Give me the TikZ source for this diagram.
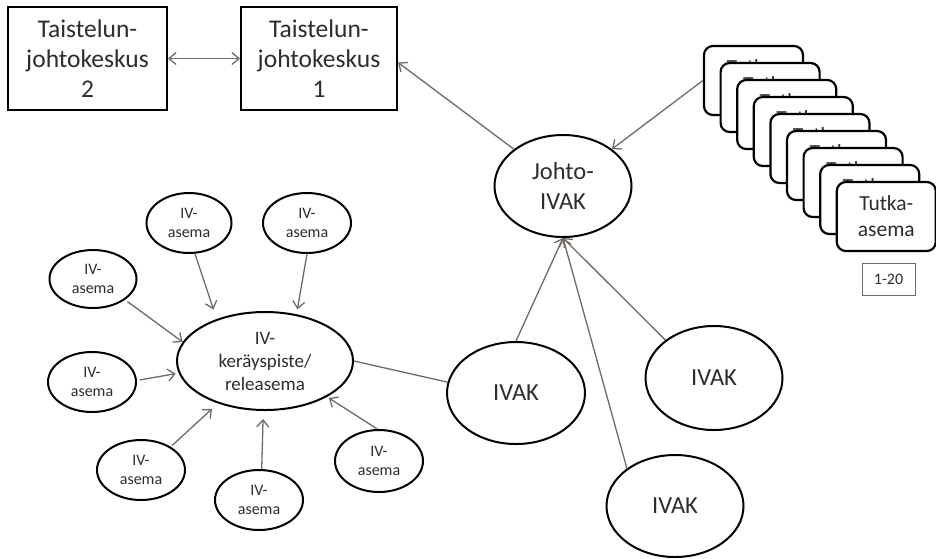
\documentclass[tikz,border=0pt]{standalone}
\usepackage{fontspec}
\setmainfont{Carlito}
\usetikzlibrary{shapes.geometric,arrows.meta}

\definecolor{linkgray}{RGB}{112,106,102}
\definecolor{inkgray}{RGB}{45,45,45}

\tikzset{
  every node/.style={text=inkgray, align=center, inner sep=0pt},
  cmdbox/.style={draw=black, line width=2.2pt, fill=white,
    font=\fontsize{25.5}{30}\selectfont},
  bigoval/.style={ellipse, draw=black, line width=2pt, fill=white,
    minimum width=137pt, minimum height=102pt,
    font=\fontsize{24.5}{30}\selectfont},
  huboval/.style={ellipse, draw=black, line width=2pt, fill=white,
    minimum width=176pt, minimum height=98pt,
    font=\fontsize{19}{23}\selectfont},
  stationoval/.style={ellipse, draw=black, line width=2pt, fill=white,
    minimum width=87pt, minimum height=60pt,
    font=\fontsize{16}{18.5}\selectfont},
  radarbox/.style={draw=black, line width=2.2pt, fill=white, rounded corners=9pt,
    minimum width=99pt, minimum height=69pt,
    font=\fontsize{21.5}{26}\selectfont},
  countbox/.style={draw=linkgray, line width=1pt,
    minimum width=53pt, minimum height=32pt,
    font=\fontsize{16}{18}\selectfont},
  link/.style={draw=linkgray, line width=1.3pt},
  linkarrow/.style={link, -{Straight Barb[length=7pt,width=12pt]}},
  linkboth/.style={link, {Straight Barb[length=7pt,width=12pt]}-{Straight Barb[length=7pt,width=12pt]}},
}

\begin{document}
\begin{tikzpicture}[x=1pt, y=-1pt]
  \fill[white] (0,0) rectangle (936,558);
  \useasboundingbox (0,0) rectangle (936,558);

  % command centres
  \node[cmdbox, minimum width=159pt, minimum height=103pt] (tjk2) at (87.5,58.5)
    {Taistelun-\\johtokeskus\\2};
  \node[cmdbox, minimum width=156pt, minimum height=103pt] (tjk1) at (319,58.5)
    {Taistelun-\\johtokeskus\\1};

  % stack of radar stations, back to front
  \foreach \i in {0,...,8}
    \node[radarbox] (radar\i) at ({753.5+16.6*\i},{80.5+17*\i}) {Tutka-\\asema};
  \node[countbox] (count) at (888.5,279) {1-20};

  % air surveillance centres
  \node[bigoval] (johto) at (563,186) {Johto-\\IVAK};
  \node[bigoval, minimum width=138pt] (ivak1) at (516,393) {IVAK};
  \node[bigoval, minimum height=104pt] (ivak2) at (714,378) {IVAK};
  \node[bigoval] (ivak3) at (675,506) {IVAK};

  % observation collection point and its stations
  \node[huboval] (hub) at (265,361) {IV-\\keräyspiste/\\releasema};
  \node[stationoval, minimum width=85pt] (iv1) at (189,223) {IV-\\asema};
  \node[stationoval, minimum width=88pt] (iv2) at (307,223) {IV-\\asema};
  \node[stationoval, minimum height=58pt] (iv3) at (93,279) {IV-\\asema};
  \node[stationoval, minimum width=88pt] (iv4) at (92,382) {IV-\\asema};
  \node[stationoval, minimum width=88pt] (iv5) at (141,470) {IV-\\asema};
  \node[stationoval, minimum width=88pt] (iv6) at (259,500) {IV-\\asema};
  \node[stationoval, minimum width=88pt, minimum height=62pt] (iv7) at (379,461) {IV-\\asema};

  % connectors
  \draw[linkboth] (tjk2) -- (tjk1);
  \draw[linkarrow] (johto) -- ([yshift=-4pt]tjk1.east);
  \draw[linkarrow] (radar0.west) -- (johto);
  \draw[linkarrow] (ivak1.north) -- (johto.south);
  \draw[linkarrow] (ivak2.142) -- (johto.south);
  \draw[linkarrow] (ivak3.142) -- (johto.south);
  \draw[link] (hub.east) -- (ivak1.171);

  \draw[linkarrow, shorten >=10pt] (iv1.-79) -- (hub.139);
  \draw[linkarrow, shorten >=5pt] (iv2.south) -- (hub.56);
  \draw[linkarrow, shorten <=3pt] (iv3.-33) -- (hub.167);
  \draw[linkarrow, shorten <=3pt, shorten >=3pt] (iv4.2) -- (hub.188);
  \draw[linkarrow, shorten <=2pt, shorten >=8pt] (iv5.38) -- (hub.222);
  \draw[linkarrow, shorten >=8pt] (iv6.85) -- (hub.-92);
  \draw[linkarrow, shorten >=2pt] (iv7.93) -- (hub.-30);
\end{tikzpicture}
\end{document}
